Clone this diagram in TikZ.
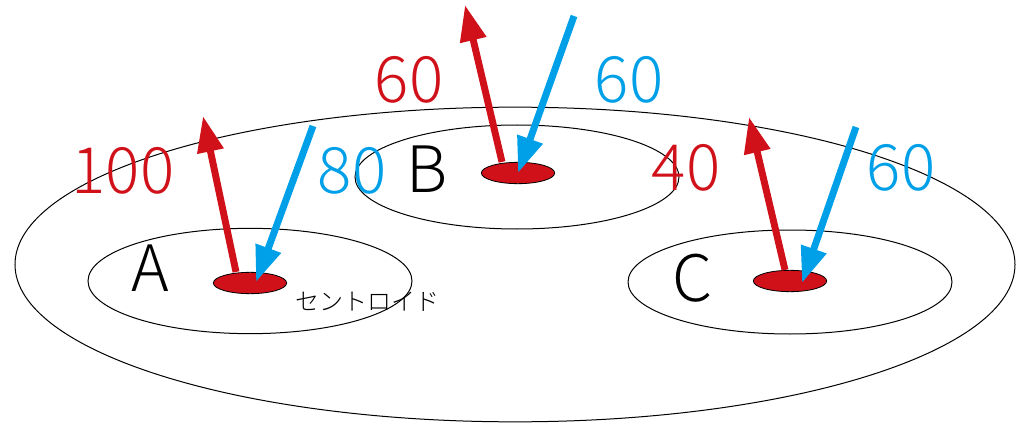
\documentclass[tikz,border=0pt]{standalone}
\usepackage{fontspec}
\setmainfont{Noto Sans CJK JP Light}
\newfontfamily\jpfont{Noto Sans CJK JP Light}
\usetikzlibrary{arrows.meta,shapes.geometric,calc}
\definecolor{kred}{RGB}{208,17,26}
\definecolor{kblue}{RGB}{0,160,233}
\tikzset{
  zone/.style={draw,line width=0.75pt},
  cent/.style={ellipse,draw,line width=0.6pt,fill=kred,minimum width=55pt,minimum height=16pt,inner sep=0pt},
  outv/.style={kred,line width=5.2pt,-{Triangle[width=19pt,length=27pt]}},
  inv/.style={kblue,line width=5.2pt,-{Triangle[width=19pt,length=27pt]}},
  num/.style={inner sep=0pt,font=\fontsize{48}{56}\selectfont},
}

\begin{document}
\begin{tikzpicture}[x=0.75pt,y=-0.75pt]
  \useasboundingbox (0,0) rectangle (1017,424);
  % regions
  \draw[zone] (515,264.5) ellipse [x radius=375pt, y radius=118pt];
  \draw[zone] (250,281) ellipse [x radius=121.5pt, y radius=39.5pt];
  \draw[zone] (517,177) ellipse [x radius=121.5pt, y radius=39pt];
  \draw[zone] (790,282) ellipse [x radius=121.5pt, y radius=39pt];
  % centroids
  \node[cent] (cA) at (250,283) {};
  \node[cent] (cB) at (518,173) {};
  \node[cent] (cC) at (790,281) {};
  % free ends of the arrows
  \coordinate (oA) at (203,116); \coordinate (iA) at (313,126);
  \coordinate (oB) at (465,5);   \coordinate (iB) at (574,16);
  \coordinate (oC) at (749,117); \coordinate (iC) at (856,127);
  \draw[outv] ($(cA.north)+(-14,0)$) -- (oA);
  \draw[inv] (iA) -- ($(cA.center)+(6,-1)$);
  \draw[outv] ($(cB.north)+(-16,0)$) -- (oB);
  \draw[inv] (iB) -- (cB.center);
  \draw[outv] ($(cC.north)+(-5,0)$) -- (oC);
  \draw[inv] (iC) -- ($(cC.center)+(12,2)$);
  % values
  \node[num,kred]  (vA1) at (123,171) {100};
  \node[num,kblue] (vA2) at (352,171) {80};
  \node[num,kred]  (vB1) at (409,80)  {60};
  \node[num,kblue] (vB2) at (629,80)  {60};
  \node[num,kred]  (vC1) at (686,168) {40};
  \node[num,kblue] (vC2) at (901,168) {60};
  % names
  \node[num] (nA) at (150,268) {A};
  \node[num] (nB) at (427,169) {B};
  \node[num] (nC) at (693,278) {C};
  \node[inner sep=0pt,font=\jpfont\fontsize{18}{20}\selectfont] (lab) at (367,302) {セントロイド};
\end{tikzpicture}
\end{document}
